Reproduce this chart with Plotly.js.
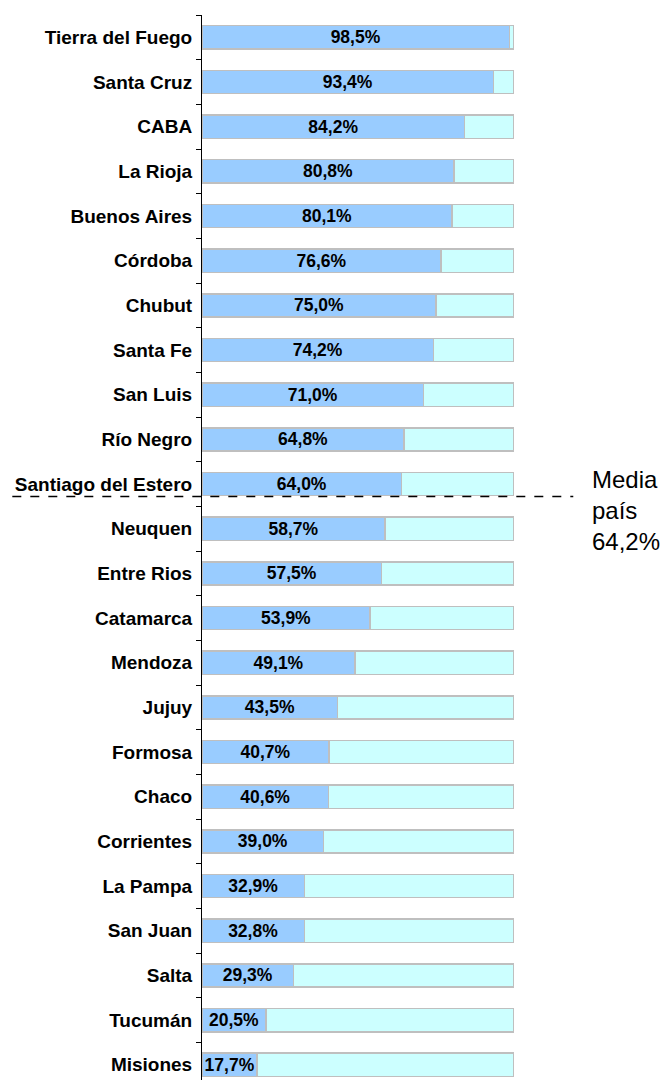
<!DOCTYPE html>
<html>
<head>
<meta charset="utf-8">
<script src="https://cdn.plot.ly/plotly-3.0.1.min.js"></script>
<style>html,body{margin:0;padding:0;background:#fff;}#chart{width:667px;height:1080px;}</style>
</head>
<body>
<div id="chart"></div>
<script>
const provincias = ["Tierra del Fuego","Santa Cruz","CABA","La Rioja","Buenos Aires","Córdoba","Chubut","Santa Fe","San Luis","Río Negro","Santiago del Estero","Neuquen","Entre Rios","Catamarca","Mendoza","Jujuy","Formosa","Chaco","Corrientes","La Pampa","San Juan","Salta","Tucumán","Misiones"];
const valores = [98.5,93.4,84.2,80.8,80.1,76.6,75.0,74.2,71.0,64.8,64.0,58.7,57.5,53.9,49.1,43.5,40.7,40.6,39.0,32.9,32.8,29.3,20.5,17.7];
const mediaPais = 64.2;
const restante = valores.map(v => 100 - v);

const fam = "Arial, 'Liberation Sans', sans-serif";
const fmt = v => v.toFixed(1).replace('.', ',') + '%';

const traces = [
  {
    type: 'bar', orientation: 'h', y: provincias, x: valores,
    marker: {color: '#99CCFF', line: {color: '#BFBFBF', width: 1.5}},
    text: valores.map(fmt), textposition: 'inside', insidetextanchor: 'middle',
    textangle: 0, constraintext: 'none',
    textfont: {family: fam, size: 17.5, color: '#000', weight: 'bold'},
    hoverinfo: 'skip', showlegend: false
  },
  {
    type: 'bar', orientation: 'h', y: provincias, x: restante,
    marker: {color: '#CCFFFF', line: {color: '#BFBFBF', width: 1.5}},
    hoverinfo: 'skip', showlegend: false
  }
];

const layout = {
  width: 667, height: 1080,
  margin: {l: 202, r: 153, t: 15, b: 0, pad: 0},
  barmode: 'stack', bargap: 0.48,
  paper_bgcolor: '#fff', plot_bgcolor: '#fff',
  xaxis: {range: [0, 100], showgrid: false, zeroline: false, showticklabels: false, showline: false, ticks: ''},
  yaxis: {
    type: 'category', autorange: false, range: [23.34, -0.5],
    showgrid: false, zeroline: false, showline: true, linecolor: '#000', linewidth: 1,
    ticks: 'outside', tickson: 'boundaries', ticklen: 5, tickcolor: '#000', tickwidth: 1,
    ticklabelstandoff: 5,
    tickfont: {family: fam, size: 19, color: '#000', weight: 'bold'}
  },
  shapes: [{
    type: 'line', xref: 'paper', yref: 'y', x0: -0.608, x1: 1.19, y0: 10.28, y1: 10.28,
    line: {color: '#000', width: 1.5, dash: 'dash'}
  }],
  annotations: [{
    xref: 'paper', yref: 'y', x: 1.245, y: 10.6, xanchor: 'left', yanchor: 'middle', align: 'left',
    showarrow: false, text: 'Media<br>país<br>' + fmt(mediaPais),
    font: {family: fam, size: 24, color: '#000'}
  }]
};

Plotly.newPlot('chart', traces, layout, {displayModeBar: false, staticPlot: true});
</script>
</body>
</html>
